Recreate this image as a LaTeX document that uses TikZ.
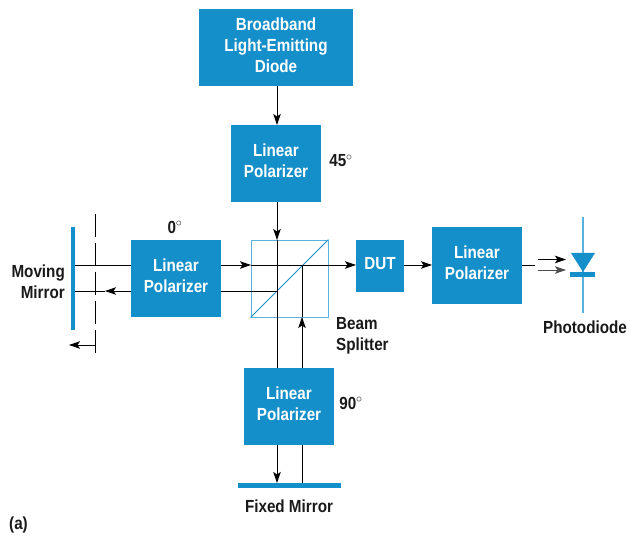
\documentclass[tikz,border=0pt]{standalone}
\usepackage{fontspec}
\setmainfont[FakeStretch=0.87]{Liberation Sans Bold}
\usetikzlibrary{arrows.meta}
\definecolor{hpblue}{RGB}{21,143,201}
\definecolor{hplight}{RGB}{90,178,220}
\begin{document}
\begin{tikzpicture}[x=1pt, y=-1pt, font=\fontsize{17.5}{21}\selectfont,
	b/.style={fill=hpblue, text=white, align=center, inner sep=0pt, minimum width=90pt, minimum height=77pt, text depth=6pt},
	m/.style={fill=hpblue, inner sep=0pt},
	l/.style={align=center, inner sep=0pt, text=black!90},
	r/.style={line width=.9pt, black},
	a/.style={r, -{Stealth[length=11pt, width=7.5pt, inset=2.5pt]}}]
	\useasboundingbox (0,0) rectangle (627,537);

	\node[b, minimum width=154pt, text depth=4pt] (led) at (276,47.5) {Broadband\\Light-Emitting\\Diode};
	\node[b] (pol45) at (276,163.5) {Linear\\Polarizer};
	\node[b] (pol0) at (176,278.5) {Linear\\Polarizer};
	\node[b] (pol90) at (289,406.5) {Linear\\Polarizer};
	\node[b] (polout) at (477,265.5) {Linear\\Polarizer};
	\node[b, minimum width=48pt, minimum height=52pt] (dut) at (380,266) {DUT};
	\node[draw=hplight, line width=.8pt, minimum width=77pt, minimum height=77pt, inner sep=0pt] (split) at (289.5,278.5) {};
	\draw[hpblue, line width=.8pt] (split.south west) -- (split.north east);

	\node[m, minimum width=4pt, minimum height=103pt] (moving) at (73,278.5) {};
	\node[m, minimum width=103pt, minimum height=5pt] (fixed) at (289.5,485.5) {};

	% photodiode
	\coordinate (pd) at (583,272);
	\draw[hplight, line width=1.3pt] (583,217) coordinate (pdtop) -- (583,313) coordinate (pdbot);
	\node[m, minimum width=25pt, minimum height=4.5pt] (pdbar) at (582.5,274.5) {};
	\fill[hpblue] (571,253) -- (595,253) -- (pd) -- cycle;

	% shutter of the moving mirror
	\coordinate (st) at (95,214);
	\coordinate (sb) at (95,355);
	\draw[r, dash pattern=on 23pt off 6pt] (st) -- (sb);
	\coordinate (sa) at (95,345);
	\coordinate (sc) at (69,345);
	\draw[a] (sa) -- (sc);

	\coordinate (xa) at (277,240);
	\coordinate (xb) at (277,291);
	\coordinate (xc) at (277,368);
	\coordinate (xd) at (277,483);
	\coordinate (xe) at (277,445);
	\coordinate (ya) at (302,368);
	\coordinate (yb) at (302,317);
	\coordinate (yc) at (302,265);
	\coordinate (yd) at (302,445);
	\coordinate (yf) at (302,483);

	\draw[a] (277,86) -- (277,125);
	\draw[a] (277,202) -- (xa);
	\draw[r] (xa) -- (xc);
	\draw[a] (xe) -- (xd);
	\draw[a] (ya) -- (yb);
	\draw[r] (yb) -- (yc);
	\draw[r] (yf) -- (yd);

	\coordinate (za) at (75,265);
	\coordinate (zb) at (131,265);
	\coordinate (zc) at (221,265);
	\coordinate (zd) at (251,265);
	\coordinate (ze) at (356,265);
	\draw[r] (za) -- (zb);
	\draw[a] (zc) -- (zd);
	\draw[a] (zd) -- (ze);
	\draw[r] (xb) -- (221,291);
	\draw[a] (131,291) -- (105,291);
	\draw[r] (105,291) -- (75,291);
	\draw[a] (404,265) -- (432,265);
	\draw[r] (522,265) -- (535,265);
	\draw[a] (538,259.5) -- (566,259.5);
	\draw[a, black!70] (538,270) -- (566,270);

	\node[l] (l45) at (341,161) {45$^\circ$};
	\node[l] (l0) at (175,227) {0$^\circ$};
	\node[l] (l90) at (351,403) {90$^\circ$};
	\node[l, align=right, anchor=east] (lmov) at (65,282) {Moving\\Mirror};
	\node[l, align=left, anchor=west] (lbeam) at (336,335.5) {Beam\\Splitter};
	\node[l] (lpd) at (585,327) {Photodiode};
	\node[l] (lfix) at (289,506) {Fixed Mirror};
	\node[l, anchor=west] (la) at (9,525) {(a)};
\end{tikzpicture}
\end{document}
